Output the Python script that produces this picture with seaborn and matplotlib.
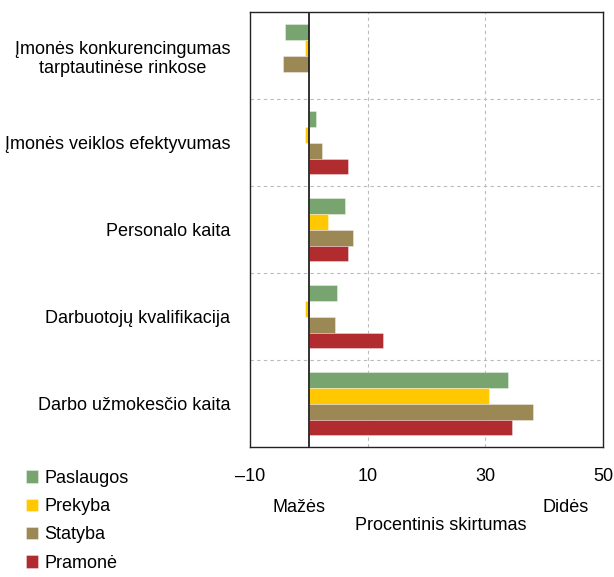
import pandas as pd
import matplotlib.pyplot as plt
import seaborn as sns

# Kategorijos ir reikšmės (procentinis skirtumas)
categories = [
    "Įmonės konkurencingumas\ntarptautinėse rinkose",
    "Įmonės veiklos efektyvumas",
    "Personalo kaita",
    "Darbuotojų kvalifikacija",
    "Darbo užmokesčio kaita",
]
sectors = ["Paslaugos", "Prekyba", "Statyba", "Pramonė"]
paslaugos = [-4.1, 1.2, 6.1, 4.8, 33.8]
prekyba = [-0.7, -0.7, 3.2, -0.7, 30.7]
statyba = [-4.3, 2.3, 7.6, 4.4, 38.1]
pramone = [0.0, 6.7, 6.7, 12.6, 34.6]
colors = ["#78A470", "#FFC800", "#9C8855", "#B02C2E"]

rows = []
for sector, vals in zip(sectors, [paslaugos, prekyba, statyba, pramone]):
    for cat, v in zip(categories, vals):
        rows.append({"Kategorija": cat, "Sektorius": sector, "Reikšmė": v})
df = pd.DataFrame(rows)

sns.set_theme(style="white")
plt.rcParams['font.family'] = ['Liberation Sans', 'DejaVu Sans']
plt.rcParams['text.color'] = 'black'
plt.rcParams['xtick.color'] = 'black'
plt.rcParams['ytick.color'] = 'black'

fig = plt.figure(figsize=(6.14, 5.77), dpi=100)
ax = fig.add_axes([0.407, 0.225, 0.575, 0.754])

sns.barplot(data=df, y="Kategorija", x="Reikšmė", hue="Sektorius", orient="h",
            palette=colors, width=0.73, ax=ax, edgecolor=(1, 1, 1, 0.4),
            linewidth=0.6, saturation=1, legend=True)

ax.set_xlim(-10, 50)
ax.set_ylim(4.5, -0.5)
ax.axvline(0, color="#222222", lw=1.3, zorder=3)
for x in [10, 30]:
    ax.axvline(x, color="#bbbbbb", lw=0.8, ls=(0, (3, 3)), zorder=0)
for y in [0.5, 1.5, 2.5, 3.5]:
    ax.axhline(y, color="#bbbbbb", lw=0.8, ls=(0, (3, 3)), zorder=0)

ax.set_xticks([-10, 10, 30, 50])
ax.set_xticklabels(["–10", "10", "30", "50"])
ax.tick_params(axis="x", length=0, pad=15, labelsize=13, labelcolor="black")
ax.tick_params(axis="y", length=0, pad=14, labelsize=13, labelcolor="black")
for lab in ax.get_yticklabels():
    lab.set_multialignment("center")
ax.set_xlabel("")
ax.set_ylabel("")
for s in ax.spines.values():
    s.set_color("#222222")
    s.set_linewidth(1.0)

handles, labels = ax.get_legend_handles_labels()
ax.get_legend().remove()
fig.legend(handles, labels, loc="upper left", bbox_to_anchor=(0.03, 0.198),
           frameon=False, fontsize=13, handlelength=0.7, handleheight=0.7,
           handletextpad=0.35, labelspacing=0.62, borderaxespad=0,
           labelcolor="black")

fig.text(299 / 614, 1 - 507 / 577, "Mažės", ha="center", va="center", fontsize=13)
fig.text(566 / 614, 1 - 507 / 577, "Didės", ha="center", va="center", fontsize=13)
fig.text(441 / 614, 1 - 525 / 577, "Procentinis skirtumas", ha="center", va="center", fontsize=13)

fig.savefig("out.png", dpi=100)
